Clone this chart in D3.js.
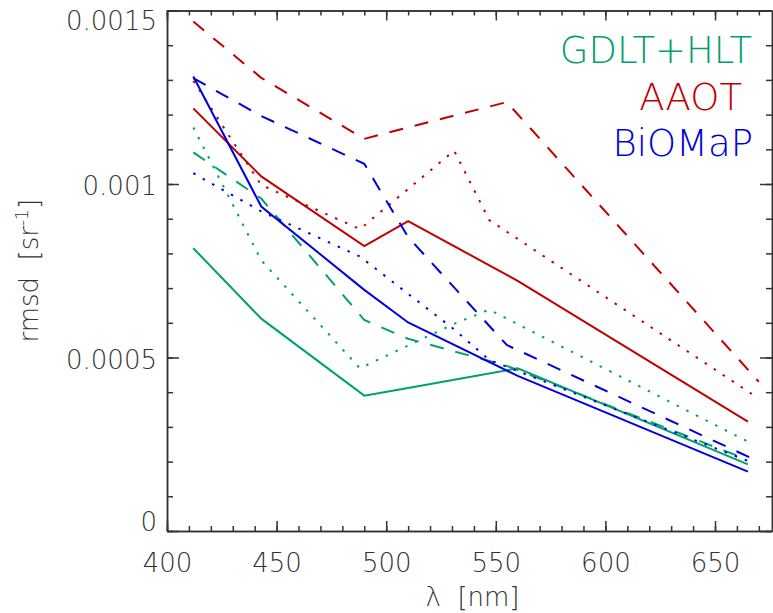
<!DOCTYPE html>
<html>
<head>
<meta charset="utf-8">
<script src="https://cdn.jsdelivr.net/npm/d3@7"></script>
<style>
  html, body { margin: 0; padding: 0; background: #fff; }
  svg text { font-family: "DejaVu Sans", sans-serif; font-weight: 200; fill: #333; }
  .axis path, .axis line { stroke: #333; stroke-width: 1.5; }
</style>
</head>
<body>
<svg id="chart" width="773" height="613"></svg>
<script>
// ── band sets (nm) ──────────────────────────────
const bandsMeris   = [412, 443, 490, 510, 560, 665];
const bandsModis   = [412, 443, 488, 531, 547, 667];
const bandsSeawifs = [412, 443, 490, 510, 555, 670];
const bandsGdltDash = [412, 443, 490, 510, 555, 665];

// ── rmsd values [sr^-1] ─────────────────────────
const gdltSolid  = [0.000815, 0.000612, 0.000390, 0.000412, 0.000469, 0.000192];
const gdltDashed = [0.001091, 0.000958, 0.000608, 0.000554, 0.000476, 0.000205];
const gdltDotted = [0.001163, 0.000780, 0.000469, 0.000597, 0.000638, 0.000251];

const aaotSolid  = [0.001218, 0.001022, 0.000821, 0.000893, 0.000721, 0.000315];
const aaotDashed = [0.001468, 0.001306, 0.001130, 0.001163, 0.001236, 0.000430];
const aaotDotted = [0.001297, 0.000997, 0.000870, 0.001096, 0.000896, 0.000394];

const biomapSolid  = [0.001310, 0.000935, 0.000695, 0.000601, 0.000447, 0.000171];
const biomapDashed = [0.001305, 0.001196, 0.001058, 0.000847, 0.000536, 0.000200];
const biomapDotted = [0.001031, 0.000921, 0.000791, 0.000581, 0.000493, 0.000197];

const siteNames  = ["GDLT+HLT", "AAOT", "BiOMaP"];
const siteColors = ["#00a070", "#c00000", "#0000e0"];

const xTicks      = [400, 450, 500, 550, 600, 650];
const xTickLabels = ["400", "450", "500", "550", "600", "650"];
const yTicks      = [0, 0.0005, 0.001, 0.0015];
const yTickLabels = ["0", "0.0005", "0.001", "0.0015"];

// ── layout ──────────────────────────────────────
const L = 167, R = 772, T = 10.5, B = 531;
const DASH = { solid: null, dashed: "14,12", dotted: "2.5,8.3" };

const series = [
  { site: 0, style: "solid",  x: bandsMeris,    y: gdltSolid },
  { site: 0, style: "dashed", x: bandsGdltDash, y: gdltDashed },
  { site: 0, style: "dotted", x: bandsModis,    y: gdltDotted },
  { site: 1, style: "solid",  x: bandsMeris,    y: aaotSolid },
  { site: 1, style: "dashed", x: bandsSeawifs,  y: aaotDashed },
  { site: 1, style: "dotted", x: bandsModis,    y: aaotDotted },
  { site: 2, style: "solid",  x: bandsMeris,    y: biomapSolid },
  { site: 2, style: "dashed", x: bandsSeawifs,  y: biomapDashed },
  { site: 2, style: "dotted", x: bandsModis,    y: biomapDotted },
];

const svg = d3.select("#chart");
const x = d3.scaleLinear().domain([400, 676]).range([L, R]);
const y = d3.scaleLinear().domain([0, 0.0015]).range([B, T]);

// ── data lines ──────────────────────────────────
const line = d3.line().x(d => x(d[0])).y(d => y(d[1]));
const lineLayer = svg.append("g");
series.forEach(s => {
  lineLayer.append("path")
    .attr("d", line(s.x.map((v, i) => [v, s.y[i]])))
    .attr("fill", "none")
    .attr("stroke", siteColors[s.site])
    .attr("stroke-width", 2)
    .attr("stroke-dasharray", DASH[s.style]);
});

// ── axes (ticks inward on all four sides) ───────
const xMinor = d3.range(400, 676, 10);
const yMinor = d3.range(0, 0.00151, 0.0001);

function addAxis(axisFn, scale, ticks, size, tf) {
  return svg.append("g").attr("class", "axis")
    .call(axisFn(scale).tickValues(ticks).tickSize(size).tickSizeOuter(0).tickFormat(tf || ""));
}

// bottom
addAxis(d3.axisBottom, x, xMinor, -5).attr("transform", `translate(0,${B})`);
const bx = addAxis(d3.axisBottom, x, xTicks, -10, (d, i) => xTickLabels[i])
  .attr("transform", `translate(0,${B})`);
bx.selectAll("text").attr("font-size", 26).attr("fill", "#333").attr("y", 23);
// top
addAxis(d3.axisTop, x, xMinor, -5).attr("transform", `translate(0,${T})`);
addAxis(d3.axisTop, x, xTicks, -10).attr("transform", `translate(0,${T})`);
// left
addAxis(d3.axisLeft, y, yMinor, -6).attr("transform", `translate(${L},0)`);
addAxis(d3.axisLeft, y, yTicks, -12).attr("transform", `translate(${L},0)`);
// right
addAxis(d3.axisRight, y, yMinor, -6).attr("transform", `translate(${R},0)`);
addAxis(d3.axisRight, y, yTicks, -12).attr("transform", `translate(${R},0)`);
svg.selectAll(".axis text").filter(function () { return !this.textContent; }).remove();

// y tick labels, kept inside the plot's vertical range
svg.append("g").selectAll("text")
  .data(yTicks)
  .join("text")
  .attr("x", L - 10)
  .attr("y", d => Math.min(B, Math.max(T + 19, y(d) + 11)))
  .attr("text-anchor", "end")
  .attr("font-size", 26)
  .text((d, i) => yTickLabels[i]);

// ── axis titles ─────────────────────────────────
svg.append("text")
  .attr("x", (L + R) / 2 + 3)
  .attr("y", 606)
  .attr("text-anchor", "middle")
  .attr("font-size", 26)
  .attr("xml:space", "preserve")
  .text("λ  [nm]");

const yt = svg.append("text")
  .attr("transform", `translate(38,${(T + B) / 2}) rotate(-90)`)
  .attr("text-anchor", "middle")
  .attr("font-size", 26)
  .attr("xml:space", "preserve");
yt.append("tspan").text("rmsd  [sr");
yt.append("tspan").attr("font-size", 17).attr("dy", -10).text("-1");
yt.append("tspan").attr("dy", 10).text("]");

// ── site legend ─────────────────────────────────
const legendX = [752, 742, 753];
const legendY = [63, 110, 156];
svg.append("g").selectAll("text")
  .data(siteNames)
  .join("text")
  .attr("x", (d, i) => legendX[i])
  .attr("y", (d, i) => legendY[i])
  .attr("text-anchor", "end")
  .attr("font-size", 37)
  .style("fill", (d, i) => siteColors[i])
  .text(d => d);
</script>
</body>
</html>
